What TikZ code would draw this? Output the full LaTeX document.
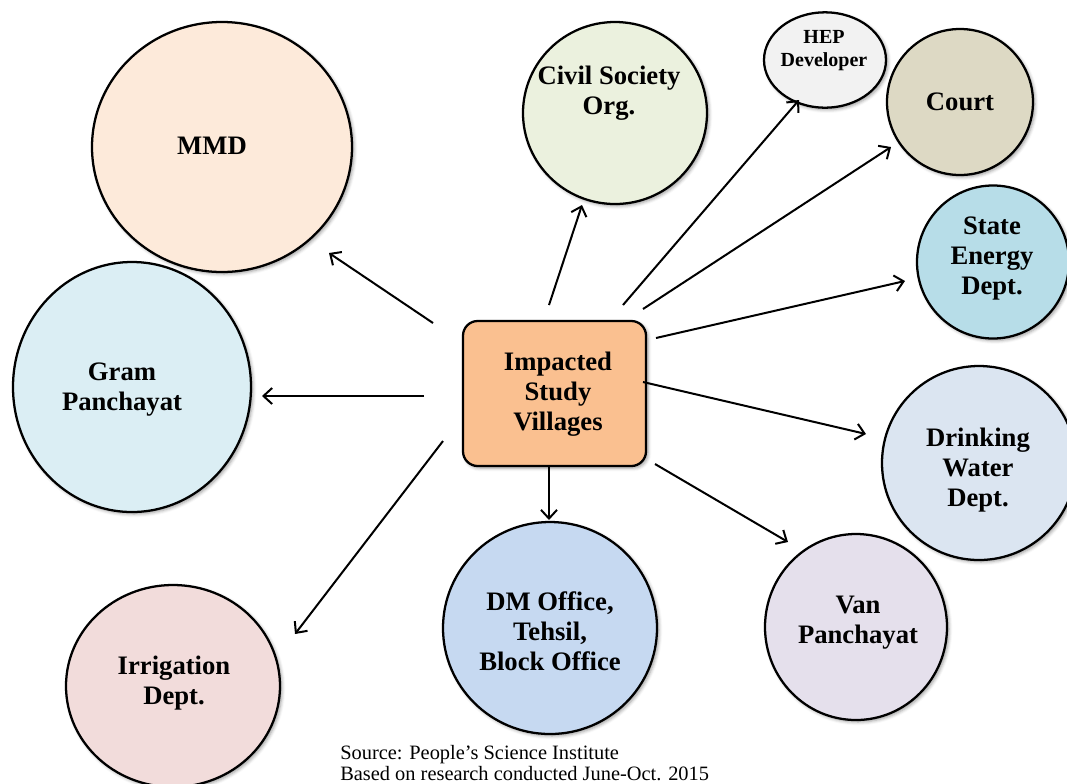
\documentclass[tikz,border=0pt]{standalone}
\usepackage{fontspec}
\setmainfont{Liberation Serif}
\usetikzlibrary{arrows.meta,shapes.geometric,shadows.blur}
\definecolor{cMMD}{HTML}{FDEADA}
\definecolor{cGram}{HTML}{DBEEF4}
\definecolor{cIrr}{HTML}{F2DCDB}
\definecolor{cDM}{HTML}{C6D9F1}
\definecolor{cVan}{HTML}{E5E0EC}
\definecolor{cDrink}{HTML}{DBE5F1}
\definecolor{cState}{HTML}{B7DDE8}
\definecolor{cCourt}{HTML}{DDD9C4}
\definecolor{cHEP}{HTML}{F2F2F2}
\definecolor{cCivil}{HTML}{EBF1DE}
\definecolor{cBox}{HTML}{FAC090}
\begin{document}
\begin{tikzpicture}[x=0.75pt,y=-0.75pt,
  shd/.style={blur shadow={shadow xshift=1.5pt,shadow yshift=-1.5pt,shadow blur radius=2.5pt,shadow opacity=40}},
  bub/.style={ellipse, draw=black, line width=1.7pt, inner sep=0pt, shd},
  lbl/.style={align=center, inner sep=0pt, font=\fontsize{20}{22.5}\selectfont\bfseries,
    execute at begin node=\strut, execute at end node=\strut},
  smalllbl/.style={lbl, font=\fontsize{15}{17.25}\selectfont\bfseries},
  conn/.style={-{Straight Barb[length=6.5pt,width=12pt,line width=1.5pt]}, line width=1.5pt}
]
\useasboundingbox (0,0) rectangle (1067,783);

% bubbles
\node[bub, fill=cMMD, minimum width=195pt, minimum height=187.5pt] (mmd) at (222,147) {};
\node[bub, fill=cGram, minimum width=178.5pt, minimum height=187.5pt] (gram) at (132,387) {};
\node[bub, fill=cIrr, minimum width=160.5pt, minimum height=151.5pt] (irr) at (173,686) {};
\node[bub, fill=cDM, minimum width=160.5pt, minimum height=159pt] (dm) at (550,628) {};
\node[bub, fill=cVan, minimum width=136.5pt, minimum height=139.5pt] (van) at (856,627) {};
\node[bub, fill=cDrink, minimum width=145.5pt, minimum height=145.5pt] (drink) at (979,463) {};
\node[bub, fill=cState, minimum width=114pt, minimum height=114.75pt] (state) at (993,262) {};
\node[bub, fill=cCourt, minimum width=109.5pt, minimum height=109.5pt] (court) at (960,102) {};
\node[bub, fill=cHEP, minimum width=91.5pt, minimum height=71.5pt] (hep) at (825,60) {};
\node[bub, fill=cCivil, minimum width=138pt, minimum height=136.5pt] (civil) at (615,113) {};

% central box
\node[draw=black, line width=1.7pt, fill=cBox, rounded corners=11pt, shd,
      minimum width=137.25pt, minimum height=108.75pt, inner sep=0pt] (box) at (554.5,393.5) {};

% labels
\node[lbl] (mmdT) at (212,148) {MMD};
\node[lbl] (gramT) at (122,391.5) {Gram\\Panchayat};
\node[lbl] (irrT) at (174,684.5) {Irrigation\\Dept.};
\node[lbl] (dmT) at (550,636) {DM Office,\\Tehsil,\\Block Office};
\node[lbl] (vanT) at (858,624.5) {Van\\Panchayat};
\node[lbl] (drinkT) at (978,472) {Drinking\\Water\\Dept.};
\node[lbl] (stateT) at (992,260.5) {State\\Energy\\Dept.};
\node[lbl] (courtT) at (960,104) {Court};
\node[smalllbl] (hepT) at (824,52) {HEP\\Developer};
\node[lbl] (civilT) at (609,95) {Civil Society\\Org.};
\node[lbl] (boxT) at (558,396) {Impacted\\Study\\Villages};

% connector end points
\coordinate (sMMD) at (433,323);   \coordinate (tMMD) at (329,253);
\coordinate (sGram) at (424,396);  \coordinate (tGram) at (262,396);
\coordinate (sIrr) at (443,441);   \coordinate (tIrr) at (295,634);
\coordinate (sCivil) at (549,305); \coordinate (tCivil) at (582,205);
\coordinate (sHEP) at (623,305);   \coordinate (tHEP) at (799,100);
\coordinate (sCourt) at (643,309); \coordinate (tCourt) at (891,147);
\coordinate (sState) at (656,338); \coordinate (tState) at (905,281);
\coordinate (sDrink) at (643,382); \coordinate (tDrink) at (866,434);
\coordinate (sDM) at (549,466);    \coordinate (tDM) at (549,520);
\coordinate (sVan) at (655,464);   \coordinate (tVan) at (788,542);

\draw[conn] (sMMD) -- (tMMD);
\draw[conn] (sGram) -- (tGram);
\draw[conn] (sIrr) -- (tIrr);
\draw[conn] (sCivil) -- (tCivil);
\draw[conn] (sHEP) -- (tHEP);
\draw[conn] (sCourt) -- (tCourt);
\draw[conn] (sState) -- (tState);
\draw[conn] (sDrink) -- (tDrink);
\draw[conn] (sDM) -- (tDM);
\draw[conn] (sVan) -- (tVan);

% source note
\node[anchor=west, align=left, inner sep=0pt, font=\fontsize{15.3}{15.3}\selectfont,
      execute at begin node=\strut, execute at end node=\strut] (src) at (340,766)
  {Source: People’s Science Institute\\Based on research conducted June-Oct. 2015};
\end{tikzpicture}
\end{document}
